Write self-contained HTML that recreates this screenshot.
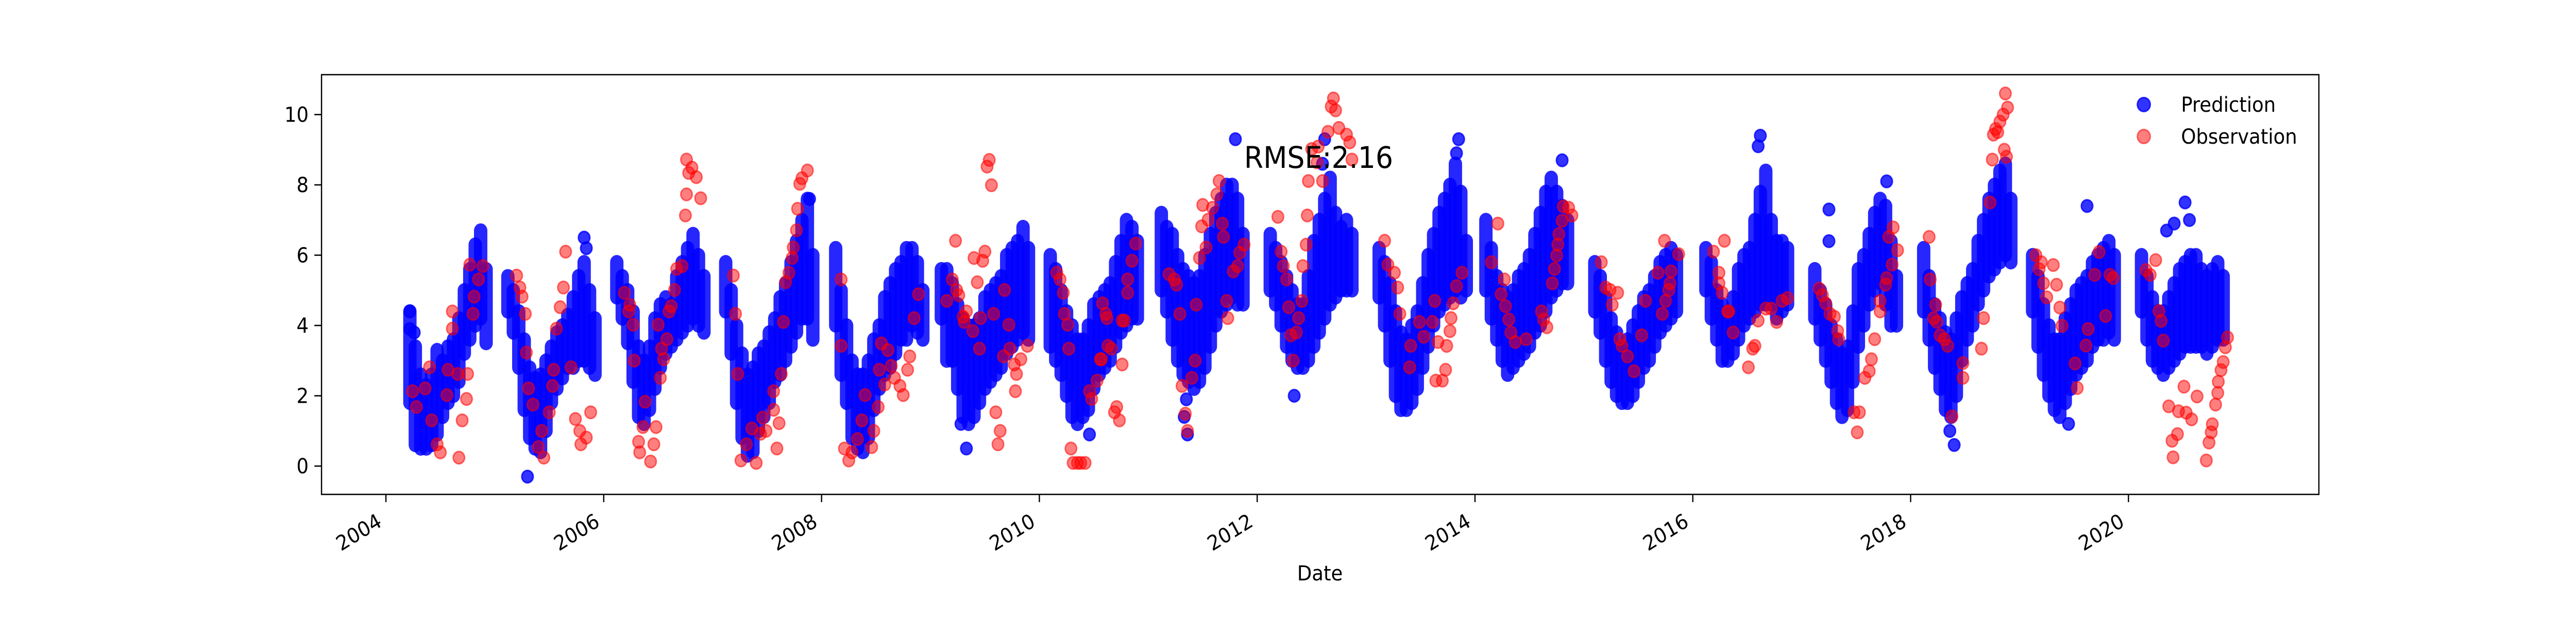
<!DOCTYPE html>
<html><head><meta charset="utf-8">
<style>
html,body{margin:0;padding:0;background:#fff;width:100vw;height:100vh;overflow:hidden;}
svg{display:block;position:absolute;left:0;top:0;width:100vw;height:100vh;}
text{font-family:"DejaVu Sans","Liberation Sans",sans-serif;fill:#000;}
</style></head>
<body>
<svg id="chart" xmlns="http://www.w3.org/2000/svg" viewBox="0 0 5400 1200" preserveAspectRatio="none">
<rect x="0" y="0" width="5400" height="1200" fill="#fff"/>
<g id="marks"></g>
<g id="axes"></g>
<text x="2608" y="326" font-size="58">RMSE:2.16</text>
<text x="2767" y="1127" font-size="40" text-anchor="middle">Date</text>
<g>
<circle cx="4494" cy="203" r="13.5" fill="#0000ff" fill-opacity="0.8" stroke="#0000ff" stroke-opacity="0.8" stroke-width="3"/>
<text x="4572" y="217" font-size="40">Prediction</text>
<circle cx="4494" cy="265" r="13.5" fill="#ff0000" fill-opacity="0.5" stroke="#ff0000" stroke-opacity="0.55" stroke-width="3"/>
<text x="4572" y="279" font-size="40">Observation</text>
</g>
</svg>
<script>
// ---- data ----
const xTickYears = [2004,2006,2008,2010,2012,2014,2016,2018,2020];
const xTickLabels = ["2004","2006","2008","2010","2012","2014","2016","2018","2020"];
const yTickValues = [0,2,4,6,8,10];
const yTickLabels = ["0","2","4","6","8","10"];

// prediction cloud: sampled dates with low/high extent of the dense blue band
const predDates = [
2004.22,2004.27,2004.32,2004.37,2004.42,2004.47,2004.52,2004.57,2004.62,2004.67,2004.72,2004.77,2004.82,2004.87,2004.92,
2005.12,2005.17,2005.22,2005.27,2005.32,2005.37,2005.42,2005.47,2005.52,2005.57,2005.62,2005.67,2005.72,2005.77,2005.82,2005.87,2005.92,
2006.12,2006.17,2006.22,2006.27,2006.32,2006.37,2006.42,2006.47,2006.52,2006.57,2006.62,2006.67,2006.72,2006.77,2006.82,2006.87,2006.92,
2007.12,2007.17,2007.22,2007.27,2007.32,2007.37,2007.42,2007.47,2007.52,2007.57,2007.62,2007.67,2007.72,2007.77,2007.82,2007.87,2007.92,
2008.13,2008.18,2008.23,2008.28,2008.33,2008.38,2008.43,2008.48,2008.53,2008.58,2008.63,2008.68,2008.73,2008.78,2008.83,2008.88,2008.93,
2009.10,2009.15,2009.20,2009.25,2009.30,2009.35,2009.40,2009.45,2009.50,2009.55,2009.60,2009.65,2009.70,2009.75,2009.80,2009.85,2009.90,
2010.10,2010.15,2010.20,2010.25,2010.30,2010.35,2010.40,2010.45,2010.50,2010.55,2010.60,2010.65,2010.70,2010.75,2010.80,2010.85,2010.90,
2011.12,2011.17,2011.22,2011.27,2011.32,2011.37,2011.42,2011.47,2011.52,2011.57,2011.62,2011.67,2011.72,2011.77,2011.82,2011.87,
2012.12,2012.17,2012.22,2012.27,2012.32,2012.37,2012.42,2012.47,2012.52,2012.57,2012.62,2012.67,2012.72,2012.77,2012.82,2012.87,
2013.12,2013.17,2013.22,2013.27,2013.32,2013.37,2013.42,2013.47,2013.52,2013.57,2013.62,2013.67,2013.72,2013.77,2013.82,2013.87,2013.92,
2014.10,2014.15,2014.20,2014.25,2014.30,2014.35,2014.40,2014.45,2014.50,2014.55,2014.60,2014.65,2014.70,2014.75,2014.80,2014.85,
2015.10,2015.15,2015.20,2015.25,2015.30,2015.35,2015.40,2015.45,2015.50,2015.55,2015.60,2015.65,2015.70,2015.75,2015.80,2015.85,
2016.12,2016.17,2016.22,2016.27,2016.32,2016.37,2016.42,2016.47,2016.52,2016.57,2016.62,2016.67,2016.72,2016.77,2016.82,2016.87,
2017.12,2017.17,2017.22,2017.27,2017.32,2017.37,2017.42,2017.47,2017.52,2017.57,2017.62,2017.67,2017.72,2017.77,2017.82,2017.87,
2018.12,2018.17,2018.22,2018.27,2018.32,2018.37,2018.42,2018.47,2018.52,2018.57,2018.62,2018.67,2018.72,2018.77,2018.82,2018.87,2018.92,
2019.12,2019.17,2019.22,2019.27,2019.32,2019.37,2019.42,2019.47,2019.52,2019.57,2019.62,2019.67,2019.72,2019.77,2019.82,2019.87,
2020.12,2020.17,2020.22,2020.27,2020.32,2020.37,2020.42,2020.47,2020.52,2020.57,2020.62,2020.67,2020.72,2020.77,2020.82,2020.87
];
const predLow = [
1.8,0.6,0.5,0.5,0.6,0.9,1.4,1.8,2.0,2.4,3.2,3.6,4.0,4.2,3.5,
4.4,3.8,2.8,1.6,0.8,0.5,0.4,1.0,1.8,2.2,2.5,2.8,2.8,3.0,3.0,2.8,2.6,
4.8,4.2,3.5,2.4,1.4,1.2,1.6,2.2,2.8,3.2,3.4,3.6,3.8,4.0,4.2,4.0,3.8,
4.4,3.2,1.8,0.8,0.3,0.4,1.0,1.4,1.8,2.4,2.6,3.0,3.4,3.8,4.2,4.2,3.6,
4.0,2.6,1.8,0.8,0.5,0.4,0.8,1.6,2.2,2.6,2.8,3.2,3.6,3.6,4.0,3.8,3.6,
4.2,3.0,3.0,2.2,1.4,1.2,1.4,1.8,2.2,2.4,2.6,2.8,3.2,3.4,3.6,3.8,3.6,
3.4,3.0,2.6,2.0,1.4,1.2,1.4,1.6,2.2,2.6,2.8,3.0,3.4,3.8,4.0,4.2,4.2,
5.0,4.4,3.6,3.0,2.6,2.4,2.2,2.4,2.8,3.4,4.0,4.4,4.6,4.8,4.6,4.6,
5.0,4.6,4.0,3.4,3.0,2.8,2.8,3.0,3.4,3.8,4.2,4.6,4.8,5.0,5.0,5.0,
4.8,4.0,3.0,2.0,1.6,1.6,1.8,2.2,2.8,3.4,4.0,4.4,4.6,4.8,5.0,4.8,5.0,
5.0,4.2,3.6,3.0,2.6,2.8,3.0,3.2,3.4,3.8,4.0,4.4,4.8,5.0,5.2,5.2,
4.4,3.8,3.0,2.4,2.0,1.8,1.8,2.0,2.4,2.8,3.0,3.4,3.8,4.0,4.2,4.4,
5.0,4.2,3.6,3.0,3.0,3.2,3.6,4.0,4.2,4.4,4.6,4.6,4.6,4.2,4.4,4.6,
4.2,3.6,3.0,2.4,1.8,1.4,1.6,2.4,3.4,4.0,4.6,5.0,5.2,4.6,4.0,4.0,
4.4,3.6,2.8,2.2,1.6,1.4,2.0,3.0,3.6,4.0,4.6,5.0,5.4,5.6,5.8,6.0,5.8,
4.4,3.4,2.6,2.0,1.6,1.4,1.8,2.2,2.6,2.8,3.0,3.4,3.6,3.6,3.8,3.6,
4.4,3.6,3.0,2.8,2.6,2.8,3.0,3.2,3.4,3.4,3.4,3.4,3.2,3.4,3.6,3.6
];
const predHigh = [
4.4,3.4,2.6,2.3,2.6,3.3,3.0,3.4,3.6,4.2,5.0,5.6,6.3,6.7,5.6,
5.4,5.0,4.4,3.6,2.8,2.5,2.6,3.0,3.4,3.8,4.0,4.3,4.8,5.4,5.8,5.0,4.2,
5.8,5.4,5.0,4.4,3.4,3.0,3.4,4.2,4.6,4.8,4.6,5.4,5.8,6.2,6.6,6.0,5.4,
5.8,5.0,4.0,3.2,2.6,2.8,3.2,3.4,3.8,4.2,4.8,5.2,5.8,6.4,7.0,7.6,6.0,
6.2,5.0,4.0,3.0,2.6,2.6,3.0,3.6,4.0,4.8,5.2,5.6,5.8,6.2,6.2,5.8,5.0,
5.6,5.6,5.2,4.6,4.2,4.0,4.0,4.2,4.8,5.0,5.2,5.4,6.0,6.2,6.4,6.8,6.2,
6.0,5.6,5.0,4.4,4.0,3.6,3.6,4.0,4.6,4.8,5.0,5.2,5.8,6.4,7.0,6.8,6.4,
7.2,6.8,6.6,6.0,5.6,5.4,5.2,5.4,6.0,6.6,7.2,7.6,8.0,8.0,7.6,6.6,
6.6,6.2,5.8,5.4,5.0,4.6,4.6,5.4,6.4,7.0,7.6,8.2,7.2,6.8,7.0,6.6,
6.2,5.8,5.2,4.4,3.8,3.6,4.0,4.4,5.2,6.0,6.6,7.2,7.6,8.0,8.6,7.8,6.4,
7.0,6.2,5.4,5.0,4.8,5.0,5.4,5.6,6.0,6.6,7.2,7.8,8.2,7.8,7.4,7.0,
5.8,5.4,4.8,4.2,3.8,3.4,3.6,4.0,4.4,4.8,5.0,5.4,5.8,6.0,6.2,6.0,
6.2,5.8,5.0,4.6,4.4,4.8,5.6,6.0,6.2,7.0,7.8,8.4,7.0,6.4,6.4,6.2,
5.6,5.0,4.6,4.0,3.6,3.2,3.4,4.4,5.6,6.0,6.6,7.2,7.6,7.4,6.4,5.4,
6.2,5.4,4.6,4.2,3.8,3.6,4.2,4.8,5.2,5.6,6.4,7.0,7.6,8.0,8.4,8.6,7.6,
6.0,5.4,4.6,4.0,3.6,3.6,4.2,4.6,5.0,5.2,5.4,5.8,6.0,6.2,6.4,6.0,
6.0,5.4,4.8,4.4,4.4,4.8,5.2,5.6,5.8,6.0,6.0,5.6,5.4,5.6,5.8,5.4
];
// isolated prediction points
const predOutDates = [2004.22,2004.22,2004.26,2005.30,2005.82,2005.84,2007.89,2009.28,2009.33,2010.46,2011.33,2011.36,2011.35,2011.80,2012.62,2012.60,2012.34,2013.85,2013.83,2014.80,2016.62,2016.60,2017.78,2017.25,2017.25,2018.40,2018.36,2019.62,2019.45,2020.52,2020.42,2020.35,2020.56];
const predOutValues = [4.4,3.9,3.8,-0.3,6.5,6.2,7.6,1.2,0.5,0.9,1.4,0.9,1.9,9.3,9.3,8.6,2.0,9.3,8.9,8.7,9.4,9.1,8.1,7.3,6.4,0.6,1.0,7.4,1.2,7.5,6.9,6.7,7.0];

// observations
const obsDates = [
2004.245,2004.28,2004.36,2004.40,2004.42,2004.47,2004.50,2004.57,2004.56,2004.61,2004.61,2004.67,2004.66,2004.75,2004.74,2004.70,2004.77,2004.81,2004.80,2004.85,2004.89,
2005.20,2005.23,2005.25,2005.28,2005.29,2005.31,2005.35,2005.43,2005.40,2005.45,2005.50,2005.53,2005.54,2005.565,2005.60,2005.63,2005.65,2005.70,2005.74,2005.78,2005.79,2005.84,2005.88,
2006.19,2006.24,2006.23,2006.27,2006.28,2006.38,2006.36,2006.32,2006.33,2006.43,2006.48,2006.46,2006.50,2006.52,2006.53,2006.55,2006.58,2006.60,2006.62,2006.65,2006.67,2006.72,2006.76,2006.78,2006.81,2006.85,2006.76,2006.89,2006.75,
2007.19,2007.21,2007.23,2007.26,2007.31,2007.36,2007.44,2007.49,2007.46,2007.40,2007.56,2007.56,2007.61,2007.59,2007.63,2007.65,2007.67,2007.70,2007.73,2007.74,2007.77,2007.78,2007.80,2007.82,2007.87,
2008.18,2008.18,2008.21,2008.25,2008.28,2008.33,2008.37,2008.40,2008.46,2008.48,2008.52,2008.53,2008.55,2008.58,2008.61,2008.64,2008.67,2008.72,2008.75,2008.79,2008.81,2008.85,2008.89,
2009.15,2009.20,2009.23,2009.24,2009.26,2009.30,2009.33,2009.31,2009.39,2009.40,2009.48,2009.50,2009.43,2009.45,2009.46,2009.58,2009.60,2009.64,2009.62,2009.67,2009.72,2009.73,2009.77,2009.79,2009.78,2009.83,2009.89,2009.68,2009.54,2009.52,2009.56,
2010.16,2010.19,2010.22,2010.23,2010.26,2010.27,2010.29,2010.31,2010.35,2010.38,2010.42,2010.46,2010.48,2010.53,2010.57,2010.58,2010.61,2010.62,2010.63,2010.56,2010.66,2010.69,2010.71,2010.735,2010.76,2010.76,2010.78,2010.81,2010.81,2010.85,2010.885,
2011.19,2011.24,2011.26,2011.29,2011.31,2011.34,2011.36,2011.40,2011.43,2011.44,2011.47,2011.49,2011.50,2011.55,2011.53,2011.59,2011.63,2011.65,2011.68,2011.69,2011.72,2011.73,2011.78,2011.82,2011.84,2011.88,
2012.19,2012.22,2012.24,2012.27,2012.29,2012.38,2012.36,2012.31,2012.33,2012.41,2012.42,2012.45,2012.46,2012.47,2012.50,2012.56,2012.55,2012.60,2012.65,2012.70,2012.68,2012.72,2012.75,2012.82,2012.85,2012.87,
2013.17,2013.20,2013.26,2013.29,2013.31,2013.40,2013.41,2013.49,2013.53,2013.61,2013.64,2013.70,2013.73,2013.66,2013.74,2013.77,2013.78,2013.80,2013.83,2013.88,2013.63,
2014.15,2014.21,2014.24,2014.27,2014.28,2014.31,2014.33,2014.37,2014.47,2014.61,2014.63,2014.66,2014.71,2014.73,2014.75,2014.76,2014.77,2014.80,2014.81,2014.86,2014.89,
2015.16,2015.20,2015.24,2015.26,2015.31,2015.33,2015.35,2015.40,2015.46,2015.53,2015.565,2015.68,2015.72,2015.75,2015.78,2015.79,2015.80,2015.74,2015.87,
2016.19,2016.24,2016.24,2016.27,2016.33,2016.29,2016.37,2016.55,2016.57,2016.51,2016.60,2016.67,2016.72,2016.77,2016.82,2016.87,2016.32,
2017.16,2017.19,2017.22,2017.26,2017.30,2017.33,2017.34,2017.48,2017.53,2017.51,2017.58,2017.62,2017.64,2017.67,2017.72,2017.72,2017.77,2017.78,2017.83,2017.88,2017.80,2017.84,
2018.17,2018.18,2018.23,2018.21,2018.24,2018.27,2018.31,2018.34,2018.38,2018.48,2018.48,2018.65,2018.67,2018.73,2018.75,2018.78,2018.76,2018.80,2018.82,2018.85,2018.87,2018.89,2018.86,2018.88,
2019.15,2019.18,2019.20,2019.22,2019.25,2019.31,2019.34,2019.37,2019.39,2019.51,2019.53,2019.61,2019.63,2019.73,2019.69,2019.79,2019.83,2019.86,
2020.16,2020.20,2020.25,2020.28,2020.30,2020.32,2020.37,2020.40,2020.41,2020.45,2020.46,2020.51,2020.53,2020.58,2020.63,2020.715,2020.74,2020.76,2020.77,2020.80,2020.82,2020.825,2020.85,2020.87,2020.89,2020.91
];
const obsValues = [
2.13,1.68,2.21,2.81,1.30,0.62,0.39,2.74,2.02,4.40,3.91,0.24,2.62,2.62,1.91,1.30,5.73,4.82,4.33,5.31,5.69,
5.42,5.08,4.82,4.33,3.23,2.21,1.75,1.00,0.54,0.24,1.53,2.28,2.74,3.91,4.52,5.08,6.10,2.81,1.34,1.00,0.62,0.81,1.53,
4.93,4.59,4.40,4.02,3.00,1.83,1.11,0.69,0.39,0.13,1.11,0.62,4.02,2.51,3.34,3.04,3.61,4.40,4.55,5.01,5.61,5.69,8.72,8.34,8.49,8.22,7.73,7.62,7.13,
5.42,4.33,2.62,0.16,0.62,1.07,0.92,1.00,1.38,0.09,1.60,2.13,1.22,0.50,2.62,4.10,5.23,5.50,5.92,6.22,6.71,7.32,8.03,8.19,8.41,
5.31,3.42,0.50,0.16,0.39,0.77,1.30,2.02,0.54,1.00,1.68,2.74,3.49,2.32,3.30,2.85,2.51,2.28,2.02,2.74,3.12,4.21,4.89,
4.70,5.31,6.41,5.01,4.86,4.25,4.40,4.10,3.84,5.92,5.84,6.10,5.23,3.34,4.21,4.33,1.53,1.00,0.62,3.12,4.02,3.34,2.89,2.62,2.13,3.04,3.42,5.01,8.71,8.52,7.99,
5.50,5.31,4.93,4.33,4.02,3.34,0.50,0.09,0.09,0.09,0.09,2.13,1.91,2.43,3.04,4.63,4.33,4.21,3.42,3.04,3.34,1.53,1.68,1.30,2.89,4.14,4.14,5.31,4.93,5.84,6.33,
5.46,5.31,5.16,4.33,2.28,1.49,1.00,2.51,3.00,4.59,5.92,6.82,7.43,7.01,6.22,7.35,7.73,8.11,6.90,6.52,4.70,4.21,5.54,5.69,6.07,6.30,
7.09,6.10,5.69,5.31,4.52,4.21,3.80,3.72,3.00,4.70,5.69,6.30,7.13,8.11,9.02,9.09,8.64,8.11,9.51,10.46,10.23,10.12,9.62,9.43,9.21,8.72,
6.41,5.73,5.50,5.08,4.33,2.81,3.42,4.10,3.68,4.10,2.43,2.43,2.74,3.53,3.42,3.84,4.21,4.63,5.12,5.50,4.70,
5.80,6.90,4.89,5.31,4.55,4.17,3.80,3.53,3.61,4.40,4.17,3.95,5.20,5.61,5.99,6.30,6.60,6.98,7.39,7.35,7.13,
5.80,5.08,5.01,4.59,4.93,3.61,3.42,3.12,2.70,3.72,4.70,5.50,4.33,4.70,5.01,5.20,5.54,6.41,6.03,
6.10,5.50,5.20,4.93,4.40,6.41,3.80,3.34,3.42,2.81,4.14,4.48,4.48,4.10,4.70,4.78,4.40,
5.05,4.86,4.63,4.33,4.25,3.84,3.61,1.53,1.53,0.96,2.51,2.70,3.04,3.61,4.40,4.70,5.16,5.35,5.73,6.14,6.52,6.79,
6.52,5.31,4.59,4.21,4.10,3.72,3.61,3.42,1.41,2.93,2.51,3.34,4.21,7.50,8.72,9.59,9.43,9.50,9.80,10.00,10.60,10.20,9.00,8.80,
6.00,5.60,5.80,5.20,4.80,5.72,5.16,4.51,3.99,2.92,2.22,3.43,3.90,6.09,5.44,4.27,5.44,5.35,
5.58,5.44,5.86,4.41,4.13,3.57,1.70,0.72,0.25,0.91,1.56,2.26,1.52,1.33,1.98,0.16,0.67,0.96,1.19,1.75,2.08,2.40,2.73,2.96,3.38,3.66
];

// ---- axes ----
const AX = {left:674, right:4861, top:145, bottom:960};
const X0 = 809, PX_PER_YEAR = 228.3;
const Y0 = 905, PX_PER_UNIT = 68.25;
function xScale(yr){ return X0 + (yr - 2004) * PX_PER_YEAR; }
function yScale(v){ return Y0 - v * PX_PER_UNIT; }

const NS = "http://www.w3.org/2000/svg";
function mk(tag, attrs){ const e = document.createElementNS(NS, tag); for (const k in attrs) e.setAttribute(k, attrs[k]); return e; }
const marks = document.getElementById('marks');
const axes = document.getElementById('axes');

const predGroup = mk('g', {});


marks.appendChild(predGroup);
const nP = Math.min(predDates.length, predLow.length, predHigh.length);
for (let i = 0; i < nP; i++) {
  const x = xScale(predDates[i]);
  const ln = mk('line', {x1:x, x2:x, y1:yScale(predLow[i]), y2:yScale(predHigh[i]), stroke:'#0000ff', 'stroke-opacity':0.85, 'stroke-width':28, 'stroke-linecap':'round'});
  
  
  predGroup.appendChild(ln);
}
const nO = Math.min(predOutDates.length, predOutValues.length);
for (let i = 0; i < nO; i++) {
  const c = mk('circle', {cx:xScale(predOutDates[i]), cy:yScale(predOutValues[i]), r:12, fill:'#0000ff', 'fill-opacity':0.8, stroke:'#0000ff', 'stroke-opacity':0.8, 'stroke-width':3});
  
  
  predGroup.appendChild(c);
}
const obsGroup = mk('g', {});


marks.appendChild(obsGroup);
const nB = Math.min(obsDates.length, obsValues.length);
for (let i = 0; i < nB; i++) {
  const c = mk('circle', {cx:xScale(obsDates[i]), cy:yScale(obsValues[i]), r:12, fill:'#ff0000', 'fill-opacity':0.5, stroke:'#ff0000', 'stroke-opacity':0.55, 'stroke-width':3});
  
  
  obsGroup.appendChild(c);
}

// frame
const frame = mk('rect', {x:AX.left, y:AX.top, width:AX.right-AX.left, height:AX.bottom-AX.top, fill:'none', stroke:'#000', 'stroke-width':2.6});


axes.appendChild(frame);

for (let i = 0; i < yTickValues.length; i++) {
  const y = yScale(yTickValues[i]);
  const t = mk('line', {x1:AX.left-15, x2:AX.left, y1:y, y2:y, stroke:'#000', 'stroke-width':2.6});
  
  
  axes.appendChild(t);
  const lb = mk('text', {x:AX.left-27, y:y+14, 'font-size':40, 'text-anchor':'end'});
  lb.textContent = yTickLabels[i];
  
  
  axes.appendChild(lb);
}
for (let i = 0; i < xTickYears.length; i++) {
  const x = xScale(xTickYears[i]);
  const t = mk('line', {x1:x, x2:x, y1:AX.bottom, y2:AX.bottom+15, stroke:'#000', 'stroke-width':2.6});
  
  
  axes.appendChild(t);
  const lb = mk('text', {'font-size':40, 'text-anchor':'end', transform:'translate(' + (x-6) + ',1020) rotate(-30)'});
  lb.textContent = xTickLabels[i];
  
  
  axes.appendChild(lb);
}
</script>
</body></html>
